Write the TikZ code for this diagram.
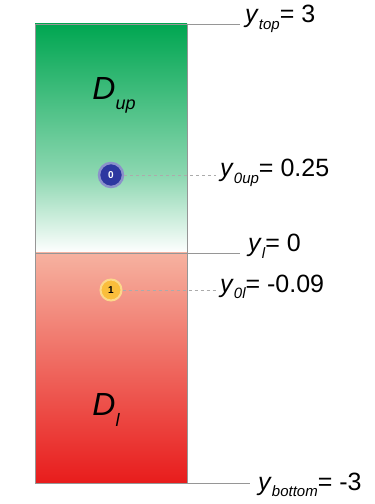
\documentclass[tikz,border=0pt]{standalone}
\usepackage{fontspec}
\setmainfont{Liberation Sans}
\usetikzlibrary{positioning}
\definecolor{upgreen}{RGB}{0,166,81}
\definecolor{lowsalmon}{RGB}{246,178,160}
\definecolor{lowred}{RGB}{232,28,28}
\definecolor{dotblue}{RGB}{45,55,160}
\definecolor{dotyellow}{RGB}{250,190,60}
\definecolor{edge}{RGB}{150,150,150}
\newcommand{\ylab}[2]{\textit{y}\raisebox{-0.5ex}{\fontsize{15}{15}\selectfont\itshape #1}= #2}

\begin{document}
\begin{tikzpicture}[x=1pt, y=1pt,
    lvl/.style={edge, line width=0.6pt},
    guide/.style={edge!80, dashed, line width=0.5pt},
    lab/.style={anchor=west, inner sep=0pt, font=\fontsize{25}{25}\selectfont},
    dom/.style={font=\fontsize{32}{32}\selectfont\itshape},
    dot/.style={circle, inner sep=0pt, minimum size=24pt, font=\fontsize{10}{10}\selectfont\bfseries}]
  \useasboundingbox (0,0) rectangle (375,504);
  % the two layers
  \shade[top color=upgreen, bottom color=upgreen!45] (35,329) rectangle (187,480);
  \shade[top color=upgreen!45, bottom color=white] (35,251) rectangle (187,329.5);
  \shade[top color=lowsalmon, bottom color=lowred] (35,21) rectangle (187,251);
  \draw[edge, line width=0.5pt] (35,21) rectangle (187,480);
  % domain names
  \node[dom] (dup) at (114,409) {D\raisebox{-0.6ex}{\fontsize{18}{18}\selectfont\itshape up}};
  \node[dom] (dl) at (106,94) {D\raisebox{-0.6ex}{\fontsize{18}{18}\selectfont\itshape l}};
  % levels
  \coordinate (topl) at (35,480);
  \coordinate (intl) at (35,251);
  \coordinate (botl) at (170,21);
  \node[lab] (ytop) at (245,485) {\ylab{top}{3}};
  \node[lab] (yint) at (248,258) {\ylab{l}{0}};
  \node[lab] (ybot) at (258,19) {\ylab{bottom}{-3}};
  \draw[lvl] (topl) -- ([xshift=-5pt,yshift=-5pt]ytop.west);
  \draw[lvl] (intl) -- ([xshift=-8pt,yshift=-7pt]yint.west);
  \draw[lvl] (botl) -- ([xshift=-8pt,yshift=2pt]ybot.west);
  % initial positions
  \node[dot, fill=dotblue, draw=dotblue!55, line width=2.5pt, text=white] (p0) at (111,329) {0};
  \node[dot, fill=dotyellow, draw=dotyellow!60, line width=2pt, minimum size=21pt] (p1) at (111,214) {1};
  \node[lab] (y0up) at (220,331) {\ylab{0up}{0.25}};
  \node[lab] (y0l) at (220,217) {\ylab{0l}{-0.09}};
  \draw[guide] (p0) -- ([xshift=-4pt,yshift=-2pt]y0up.west);
  \draw[guide] (p1) -- ([xshift=-4pt,yshift=-3pt]y0l.west);
\end{tikzpicture}
\end{document}
